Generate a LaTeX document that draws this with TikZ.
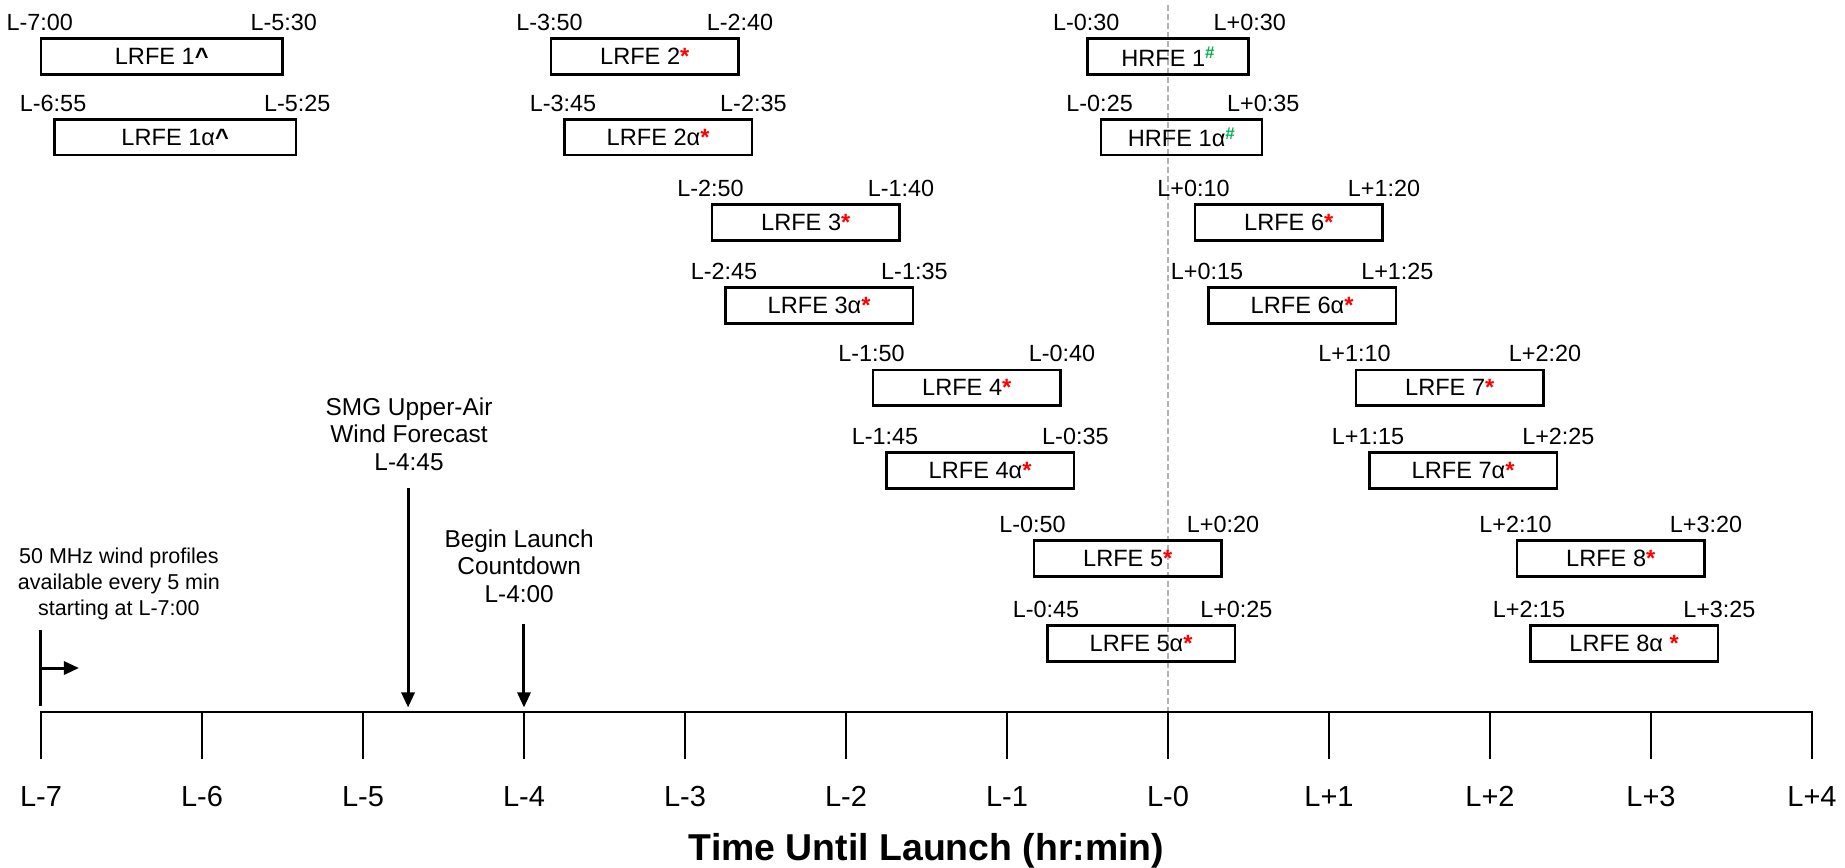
\documentclass[tikz,border=0pt]{standalone}
\usepackage{fontspec}
\setmainfont{Liberation Sans}
\usepackage{xcolor}
\usepackage{tikz}
\usetikzlibrary{arrows.meta,positioning}
\definecolor{hashGreen}{RGB}{0,176,80}

\begin{document}
\begin{tikzpicture}[
    x=2.8292cm, y=1cm,
    font=\fontsize{11.7}{14}\selectfont,
    window/.style={
        rectangle, draw=black, line width=1.3pt, minimum width=3.3007cm,
        minimum height=0.63cm, inner sep=0pt, font=\fontsize{11.8}{14}\selectfont
    },
    longWindow/.style={window, minimum width=4.2438cm},
    hourWindow/.style={window, minimum width=2.8292cm},
    timeLabel/.style={anchor=base, inner sep=0pt, font=\fontsize{11.7}{14}\selectfont},
    axisLine/.style={draw=black, line width=1.35pt},
    tickLabel/.style={anchor=base, inner sep=0pt, font=\fontsize{14.5}{17}\selectfont},
    noteText/.style={align=center, inner sep=0pt, font=\fontsize{12.2}{13.75}\selectfont},
    eventArrow/.style={-{Triangle[length=7.5pt, width=6.5pt]}, line width=1.5pt},
    zeroLine/.style={draw=gray!60, line width=0.7pt, dash pattern=on 3pt off 1.5pt}
]
\useasboundingbox (-7.2547,-2.724) rectangle (4.2050,12.512);

% Launch time marker
\coordinate (zeroTop) at (0, 12.42);
\coordinate (zeroBot) at (0, 0);
\draw[zeroLine] (zeroTop) -- (zeroBot);

% Row 1
\node[longWindow] (lrfe1) at (-6.25, 11.52) {LRFE 1\textbf{\textasciicircum}};
\node[window] (lrfe2) at (-3.25, 11.52) {LRFE 2\textcolor{red}{\textbf{*}}};
\node[hourWindow] (hrfe1) at (0, 11.52) {HRFE 1\raisebox{0.33em}{\fontsize{8.5}{9}\selectfont\textcolor{hashGreen}{\textbf{\#}}}};
\node[timeLabel] (lrfe1S) at ([yshift=3.3pt]lrfe1.north west) {L-7:00};
\node[timeLabel] (lrfe1E) at ([yshift=3.3pt]lrfe1.north east) {L-5:30};
\node[timeLabel] (lrfe2S) at ([yshift=3.3pt]lrfe2.north west) {L-3:50};
\node[timeLabel] (lrfe2E) at ([yshift=3.3pt]lrfe2.north east) {L-2:40};
\node[timeLabel] (hrfe1S) at ([yshift=3.3pt]hrfe1.north west) {L-0:30};
\node[timeLabel] (hrfe1E) at ([yshift=3.3pt]hrfe1.north east) {L+0:30};

% Row 2
\node[longWindow] (lrfe1a) at (-6.1667, 10.10) {LRFE 1α\textbf{\textasciicircum}};
\node[window] (lrfe2a) at (-3.1667, 10.10) {LRFE 2α\textcolor{red}{\textbf{*}}};
\node[hourWindow] (hrfe1a) at (0.0833, 10.10) {HRFE 1α\raisebox{0.33em}{\fontsize{8.5}{9}\selectfont\textcolor{hashGreen}{\textbf{\#}}}};
\node[timeLabel] (lrfe1aS) at ([yshift=3.3pt]lrfe1a.north west) {L-6:55};
\node[timeLabel] (lrfe1aE) at ([yshift=3.3pt]lrfe1a.north east) {L-5:25};
\node[timeLabel] (lrfe2aS) at ([yshift=3.3pt]lrfe2a.north west) {L-3:45};
\node[timeLabel] (lrfe2aE) at ([yshift=3.3pt]lrfe2a.north east) {L-2:35};
\node[timeLabel] (hrfe1aS) at ([yshift=3.3pt]hrfe1a.north west) {L-0:25};
\node[timeLabel] (hrfe1aE) at ([yshift=3.3pt]hrfe1a.north east) {L+0:35};

% Row 3
\node[window] (lrfe3) at (-2.25, 8.606) {LRFE 3\textcolor{red}{\textbf{*}}};
\node[window] (lrfe6) at (0.75, 8.606) {LRFE 6\textcolor{red}{\textbf{*}}};
\node[timeLabel] (lrfe3S) at ([yshift=3.3pt]lrfe3.north west) {L-2:50};
\node[timeLabel] (lrfe3E) at ([yshift=3.3pt]lrfe3.north east) {L-1:40};
\node[timeLabel] (lrfe6S) at ([yshift=3.3pt]lrfe6.north west) {L+0:10};
\node[timeLabel] (lrfe6E) at ([yshift=3.3pt]lrfe6.north east) {L+1:20};

% Row 4
\node[window] (lrfe3a) at (-2.1667, 7.147) {LRFE 3α\textcolor{red}{\textbf{*}}};
\node[window] (lrfe6a) at (0.8333, 7.147) {LRFE 6α\textcolor{red}{\textbf{*}}};
\node[timeLabel] (lrfe3aS) at ([yshift=3.3pt]lrfe3a.north west) {L-2:45};
\node[timeLabel] (lrfe3aE) at ([yshift=3.3pt]lrfe3a.north east) {L-1:35};
\node[timeLabel] (lrfe6aS) at ([yshift=3.3pt]lrfe6a.north west) {L+0:15};
\node[timeLabel] (lrfe6aE) at ([yshift=3.3pt]lrfe6a.north east) {L+1:25};

% Row 5
\node[window] (lrfe4) at (-1.25, 5.697) {LRFE 4\textcolor{red}{\textbf{*}}};
\node[window] (lrfe7) at (1.75, 5.697) {LRFE 7\textcolor{red}{\textbf{*}}};
\node[timeLabel] (lrfe4S) at ([yshift=3.3pt]lrfe4.north west) {L-1:50};
\node[timeLabel] (lrfe4E) at ([yshift=3.3pt]lrfe4.north east) {L-0:40};
\node[timeLabel] (lrfe7S) at ([yshift=3.3pt]lrfe7.north west) {L+1:10};
\node[timeLabel] (lrfe7E) at ([yshift=3.3pt]lrfe7.north east) {L+2:20};

% Row 6
\node[window] (lrfe4a) at (-1.1667, 4.248) {LRFE 4α\textcolor{red}{\textbf{*}}};
\node[window] (lrfe7a) at (1.8333, 4.248) {LRFE 7α\textcolor{red}{\textbf{*}}};
\node[timeLabel] (lrfe4aS) at ([yshift=3.3pt]lrfe4a.north west) {L-1:45};
\node[timeLabel] (lrfe4aE) at ([yshift=3.3pt]lrfe4a.north east) {L-0:35};
\node[timeLabel] (lrfe7aS) at ([yshift=3.3pt]lrfe7a.north west) {L+1:15};
\node[timeLabel] (lrfe7aE) at ([yshift=3.3pt]lrfe7a.north east) {L+2:25};

% Row 7
\node[window] (lrfe5) at (-0.25, 2.701) {LRFE 5\textcolor{red}{\textbf{*}}};
\node[window] (lrfe8) at (2.75, 2.701) {LRFE 8\textcolor{red}{\textbf{*}}};
\node[timeLabel] (lrfe5S) at ([yshift=3.3pt]lrfe5.north west) {L-0:50};
\node[timeLabel] (lrfe5E) at ([yshift=3.3pt]lrfe5.north east) {L+0:20};
\node[timeLabel] (lrfe8S) at ([yshift=3.3pt]lrfe8.north west) {L+2:10};
\node[timeLabel] (lrfe8E) at ([yshift=3.3pt]lrfe8.north east) {L+3:20};

% Row 8
\node[window] (lrfe5a) at (-0.1667, 1.207) {LRFE 5α\textcolor{red}{\textbf{*}}};
\node[window] (lrfe8a) at (2.8333, 1.207) {LRFE 8α \textcolor{red}{\textbf{*}}};
\node[timeLabel] (lrfe5aS) at ([yshift=3.3pt]lrfe5a.north west) {L-0:45};
\node[timeLabel] (lrfe5aE) at ([yshift=3.3pt]lrfe5a.north east) {L+0:25};
\node[timeLabel] (lrfe8aS) at ([yshift=3.3pt]lrfe8a.north west) {L+2:15};
\node[timeLabel] (lrfe8aE) at ([yshift=3.3pt]lrfe8a.north east) {L+3:25};

% Events
\node[noteText, font=\fontsize{10.75}{12.95}\selectfont] (profiles) at (-6.516, 2.256) {50 MHz wind profiles\\available every 5 min\\starting at L-7:00};
\coordinate (profTop) at (-7, 1.441);
\coordinate (profBot) at (-7, 0.105);
\draw[axisLine, line width=1.5pt] (profTop) -- (profBot);
\coordinate (profMid) at (-7, 0.773);
\coordinate (profEnd) at (-6.764, 0.773);
\draw[eventArrow] (profMid) -- (profEnd);

\node[noteText] (smg) at (-4.714, 4.885) {SMG Upper-Air\\Wind Forecast\\L-4:45};
\coordinate (smgTip) at (-4.72, 0.08);
\draw[eventArrow] ([yshift=-8.7pt]smg.south -| smgTip) -- (smgTip);

\node[noteText] (countdown) at (-4.03, 2.566) {Begin Launch\\Countdown\\L-4:00};
\coordinate (cdTip) at (-4, 0.08);
\draw[eventArrow] ([yshift=-10.5pt]countdown.south -| cdTip) -- (cdTip);

% Time axis
\draw[axisLine] (-7,-0.83) -- (-7,0) -- (4,0) -- (4,-0.83);
\draw[axisLine] (-6,0) -- (-6,-0.83);
\draw[axisLine] (-5,0) -- (-5,-0.83);
\draw[axisLine] (-4,0) -- (-4,-0.83);
\draw[axisLine] (-3,0) -- (-3,-0.83);
\draw[axisLine] (-2,0) -- (-2,-0.83);
\draw[axisLine] (-1,0) -- (-1,-0.83);
\draw[axisLine] (0,0) -- (0,-0.83);
\draw[axisLine] (1,0) -- (1,-0.83);
\draw[axisLine] (2,0) -- (2,-0.83);
\draw[axisLine] (3,0) -- (3,-0.83);

\node[tickLabel] (tM7) at (-7,-1.652) {L-7};
\node[tickLabel] (tM6) at (-6,-1.652) {L-6};
\node[tickLabel] (tM5) at (-5,-1.652) {L-5};
\node[tickLabel] (tM4) at (-4,-1.652) {L-4};
\node[tickLabel] (tM3) at (-3,-1.652) {L-3};
\node[tickLabel] (tM2) at (-2,-1.652) {L-2};
\node[tickLabel] (tM1) at (-1,-1.652) {L-1};
\node[tickLabel] (t0) at (0,-1.652) {L-0};
\node[tickLabel] (tP1) at (1,-1.652) {L+1};
\node[tickLabel] (tP2) at (2,-1.652) {L+2};
\node[tickLabel] (tP3) at (3,-1.652) {L+3};
\node[tickLabel] (tP4) at (4,-1.652) {L+4};

\node[anchor=base, inner sep=0pt, font=\fontsize{18.7}{22}\selectfont\bfseries] (title) at (-1.5,-2.601) {Time Until Launch (hr:min)};

\end{tikzpicture}
\end{document}
